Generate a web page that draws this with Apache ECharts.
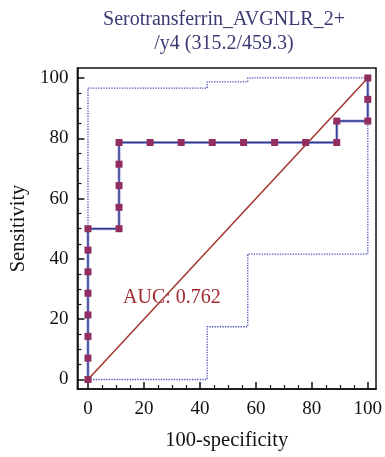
<!DOCTYPE html>
<html>
<head>
<meta charset="utf-8">
<script src="https://cdn.jsdelivr.net/npm/echarts@6/dist/echarts.min.js"></script>
<style>
  html, body { margin: 0; padding: 0; background: #fff; }
  #chart { width: 385px; height: 457px; }
</style>
</head>
<body>
<div id="chart"></div>
<script>
// ROC curve: 100-specificity (x) vs sensitivity (y)
const rocX = [0, 0, 0, 0, 0, 0, 0, 0, 11.1, 11.1, 11.1, 11.1, 11.1, 22.2, 33.3, 44.4, 55.6, 66.7, 77.8, 88.9, 88.9, 100, 100, 100];
const rocY = [0, 7.1, 14.3, 21.4, 28.6, 35.7, 42.9, 50, 50, 57.1, 64.3, 71.4, 78.6, 78.6, 78.6, 78.6, 78.6, 78.6, 78.6, 78.6, 85.7, 85.7, 92.9, 100];

// 95% confidence bounds (step outlines)
const upperX = [0, 0, 42.6, 42.6, 57.1, 57.1, 100];
const upperY = [0, 96.6, 96.6, 98.7, 98.7, 100, 100];
const lowerX = [0, 42.6, 42.6, 57.1, 57.1, 100, 100];
const lowerY = [0, 0, 17.5, 17.5, 41.6, 41.6, 100];

// Reference diagonal
const diagX = [0, 100];
const diagY = [0, 100];

const majorTicks = [0, 20, 40, 60, 80, 100];
const minorTicks = [5, 10, 15, 25, 30, 35, 45, 50, 55, 65, 70, 75, 85, 90, 95];

const titleLines = ['Serotransferrin_AVGNLR_2+', '/y4 (315.2/459.3)'];
const aucText = 'AUC: 0.762';
const xName = '100-specificity';
const yName = 'Sensitivity';

const serif = '"Liberation Serif", "DejaVu Serif", serif';
const pairs = (xs, ys) => xs.map((x, i) => [x, ys[i]]);

const X_MIN = -3.78, X_MAX = 102.93, Y_MIN = -3.15, Y_MAX = 103.3;

function axisPair(dim) {
  const isX = dim === 'x';
  const main = {
    type: 'value',
    min: isX ? X_MIN : Y_MIN,
    max: isX ? X_MAX : Y_MAX,
    position: isX ? 'bottom' : 'left',
    name: isX ? xName : yName,
    nameLocation: 'middle',
    nameGap: isX ? 41 : 47,
    nameTextStyle: { fontFamily: serif, fontSize: 20.5, color: '#111' },
    splitLine: { show: false },
    axisLine: { show: true, onZero: false, lineStyle: { color: '#111', width: 1.5 } },
    axisTick: { show: true, inside: true, length: 7, customValues: majorTicks, lineStyle: { color: '#111', width: 1.5 } },
    axisLabel: { show: true, customValues: majorTicks, margin: isX ? 11 : 9, fontFamily: serif, fontSize: 19, color: '#111' }
  };
  const minor = {
    type: 'value',
    min: isX ? X_MIN : Y_MIN,
    max: isX ? X_MAX : Y_MAX,
    position: isX ? 'bottom' : 'left',
    splitLine: { show: false },
    axisLine: { show: false, onZero: false },
    axisTick: { show: true, inside: true, length: 4, customValues: minorTicks, lineStyle: { color: '#111', width: 1.2 } },
    axisLabel: { show: false }
  };
  return [main, minor];
}

const chart = echarts.init(document.getElementById('chart'), null, { renderer: 'canvas' });

chart.setOption({
  animation: false,
  backgroundColor: '#fff',
  grid: {
    left: 75, top: 68, right: 8, bottom: 68,
    show: true, borderColor: '#111', borderWidth: 1.5, backgroundColor: 'transparent'
  },
  xAxis: axisPair('x'),
  yAxis: axisPair('y'),
  graphic: [
    {
      type: 'text', x: 224, y: 20,
      style: { text: titleLines[0], fontFamily: serif, fontSize: 20, fill: '#3a3a72', textAlign: 'center', textVerticalAlign: 'middle' }
    },
    {
      type: 'text', x: 224, y: 44,
      style: { text: titleLines[1], fontFamily: serif, fontSize: 20, fill: '#3a3a72', textAlign: 'center', textVerticalAlign: 'middle' }
    },
    {
      type: 'text', x: 123, y: 298,
      style: { text: aucText, fontFamily: serif, fontSize: 20, fill: '#a3292e', textAlign: 'left', textVerticalAlign: 'middle' }
    }
  ],
  series: [
    {
      type: 'line', data: pairs(upperX, upperY), showSymbol: false, symbol: 'none',
      lineStyle: { color: '#4a50b8', width: 1.3, type: 'dotted' }, z: 2
    },
    {
      type: 'line', data: pairs(lowerX, lowerY), showSymbol: false, symbol: 'none',
      lineStyle: { color: '#4a50b8', width: 1.3, type: 'dotted' }, z: 2
    },
    {
      type: 'line', data: pairs(diagX, diagY), showSymbol: false, symbol: 'none',
      lineStyle: { color: '#a3342f', width: 1.5 }, z: 3
    },
    {
      type: 'line', data: pairs(rocX, rocY), showSymbol: false, symbol: 'none',
      lineStyle: { color: '#b6b9df', width: 3.2 }, z: 4
    },
    {
      type: 'line', data: pairs(rocX, rocY), symbol: 'rect', symbolSize: 7, showSymbol: true,
      lineStyle: { color: '#2c3591', width: 1.4 },
      itemStyle: { color: '#922d5f' }, z: 5
    }
  ]
});
</script>
</body>
</html>
